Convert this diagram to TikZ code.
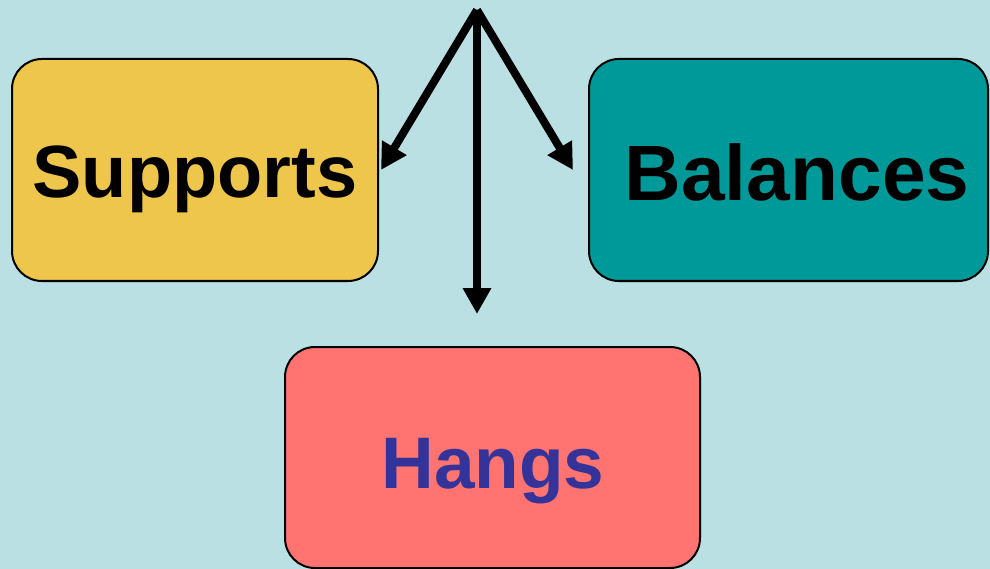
\documentclass[tikz,border=0pt]{standalone}
\usepackage{fontspec}
\setmainfont{Liberation Sans}
\usetikzlibrary{arrows.meta}
\definecolor{bgcyan}{HTML}{BAE0E3}
\definecolor{supfill}{HTML}{EEC64C}
\definecolor{balfill}{HTML}{009999}
\definecolor{hangfill}{HTML}{FF7470}
\definecolor{hangtext}{HTML}{333399}
\begin{document}
\begin{tikzpicture}[x=1pt,y=-1pt,
  box/.style={draw=black,line width=2pt,rounded corners=30pt},
  word/.style={font=\bfseries,anchor=base,inner sep=0pt},
  pointer/.style={line width=8pt,-{Triangle[length=26pt,width=27pt]}}]
  % canvas
  \fill[bgcyan] (0,0) rectangle (990,569);
  \useasboundingbox (0,0) rectangle (990,569);
  % boxes
  \draw[box,fill=supfill] (12,59) rectangle (378,281);
  \draw[box,fill=balfill] (589,59) rectangle (988,281);
  \draw[box,fill=hangfill] (285,347) rectangle (700,568);
  % labels
  \node[word,font=\fontsize{74}{80}\selectfont\bfseries] (sup) at (195,198) {Supports};
  \node[word,font=\fontsize{78.5}{84}\selectfont\bfseries] (bal) at (797,201) {Balances};
  \node[word,font=\fontsize{73}{80}\selectfont\bfseries,text=hangtext] (hang) at (493,488) {Hangs};
  % arrows fanning out from the top point
  \coordinate (top) at (477,10);
  \coordinate (tl) at (381,170);
  \coordinate (tr) at (573,170);
  \coordinate (td) at (477,314);
  \draw[pointer] (top) -- (tl);
  \draw[pointer] (top) -- (tr);
  \draw[pointer] (top) -- (td);
\end{tikzpicture}
\end{document}
